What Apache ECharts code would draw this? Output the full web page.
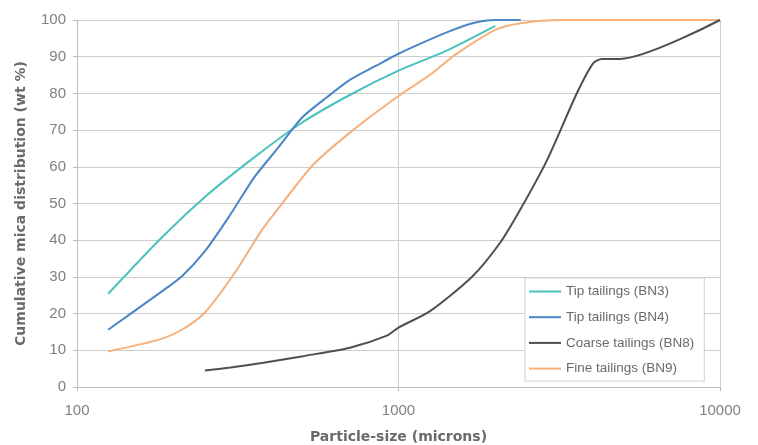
<!DOCTYPE html>
<html>
<head>
<meta charset="utf-8">
<script src="https://cdn.jsdelivr.net/npm/echarts@6/dist/echarts.min.js"></script>
<style>
  html, body { margin: 0; padding: 0; background: #fff; }
  #chart { width: 758px; height: 445px; }
</style>
</head>
<body>
<div id="chart"></div>
<script>
// Particle size (microns) and cumulative mica content (wt %) for each tailings sample
const seriesNames = ['Tip tailings (BN3)', 'Tip tailings (BN4)', 'Coarse tailings (BN8)', 'Fine tailings (BN9)'];

const bn3Size = [125, 180, 250, 355, 500, 710, 1000, 1400, 2000];
const bn3Cum  = [25.4, 40, 51.8, 62.5, 72, 79.7, 86.2, 91.5, 98.4];

const bn4Size = [125, 180, 212, 250, 300, 355, 425, 500, 600, 710, 850, 1000, 1180, 1400, 1700, 2000, 2400];
const bn4Cum  = [15.6, 25.5, 30.2, 37, 47, 57, 65.5, 73.3, 79, 83.8, 87.5, 90.8, 93.7, 96.5, 99.1, 100, 100];

const bn8Size = [250, 300, 380, 505, 706, 920, 1000, 1250, 1700, 2070, 2390, 2900, 3590, 4030, 4300, 4890, 10000];
const bn8Cum  = [4.5, 5.3, 6.6, 8.4, 10.7, 14, 16.2, 20.6, 30.2, 39.3, 48.3, 61.9, 80.1, 88.2, 89.4, 89.4, 100];

const bn9Size = [125, 180, 212, 250, 310, 376, 420, 542, 722, 1000, 1250, 1500, 2000, 2400, 3200, 10000];
const bn9Cum  = [9.7, 12.9, 15.6, 20.3, 31.2, 42.8, 48.3, 60.5, 70, 79.3, 85, 90.5, 97.3, 99.1, 100, 100];

const xTicks = [100, 1000, 10000];
const yMin = 0, yMax = 100, yStep = 10;

const colors = ['#48c2bb', '#4a86c5', '#4f4f4f', '#f7b07a'];

function pairs(xs, ys) { return xs.map((x, i) => [x, ys[i]]); }
const datasets = [pairs(bn3Size, bn3Cum), pairs(bn4Size, bn4Cum), pairs(bn8Size, bn8Cum), pairs(bn9Size, bn9Cum)];

const chart = echarts.init(document.getElementById('chart'), null, { renderer: 'canvas' });
const font = 'Liberation Sans, Arial, sans-serif';
const titleFont = 'DejaVu Sans, sans-serif';

chart.setOption({
  animation: false,
  backgroundColor: '#ffffff',
  color: colors,
  grid: { left: 77, right: 38, top: 20, bottom: 58, containLabel: false, outerBoundsMode: 'none' },
  legend: {
    orient: 'vertical',
    left: 525,
    top: 278,
    icon: 'rect',
    itemWidth: 32,
    itemHeight: 2,
    itemGap: 10.7,
    padding: [6, 10, 5, 4],
    borderColor: '#cfcfcf',
    borderWidth: 1,
    backgroundColor: '#ffffff',
    textStyle: { color: '#6a6a6a', fontSize: 13.5, fontFamily: font, lineHeight: 15 },
    data: seriesNames
  },
  xAxis: {
    type: 'log',
    logBase: 10,
    min: xTicks[0],
    max: xTicks[xTicks.length - 1],
    name: 'Particle-size (microns)',
    nameLocation: 'middle',
    nameGap: 43,
    nameTextStyle: { color: '#6a6a6a', fontSize: 14, fontWeight: 'bold', fontFamily: titleFont },
    axisLine: { show: true, lineStyle: { color: '#bdbdbd', width: 1 } },
    axisTick: { show: true, length: 4, lineStyle: { color: '#bdbdbd' } },
    axisLabel: { color: '#808080', fontSize: 15, fontFamily: font, margin: 16, formatter: v => String(Math.round(v)) },
    splitLine: { show: true, lineStyle: { color: '#cdcdcd', width: 1 } },
    minorTick: { show: false },
    minorSplitLine: { show: false }
  },
  yAxis: {
    type: 'value',
    min: yMin,
    max: yMax,
    interval: yStep,
    name: 'Cumulative mica distribution (wt %)',
    nameLocation: 'middle',
    nameGap: 49,
    nameTextStyle: { color: '#6a6a6a', fontSize: 14, fontWeight: 'bold', fontFamily: titleFont },
    axisLine: { show: true, lineStyle: { color: '#bdbdbd', width: 1 } },
    axisTick: { show: true, length: 4, lineStyle: { color: '#bdbdbd' } },
    axisLabel: { color: '#808080', fontSize: 15, fontFamily: font, margin: 11 },
    splitLine: { show: true, lineStyle: { color: '#cdcdcd', width: 1 } }
  },
  series: seriesNames.map((name, i) => ({
    name: name,
    type: 'line',
    data: datasets[i],
    smooth: 0.25,
    showSymbol: false,
    symbol: 'none',
    lineStyle: { width: 2, color: colors[i] },
    itemStyle: { color: colors[i] },
    z: i === 2 ? 3 : 2
  }))
});
</script>
</body>
</html>
